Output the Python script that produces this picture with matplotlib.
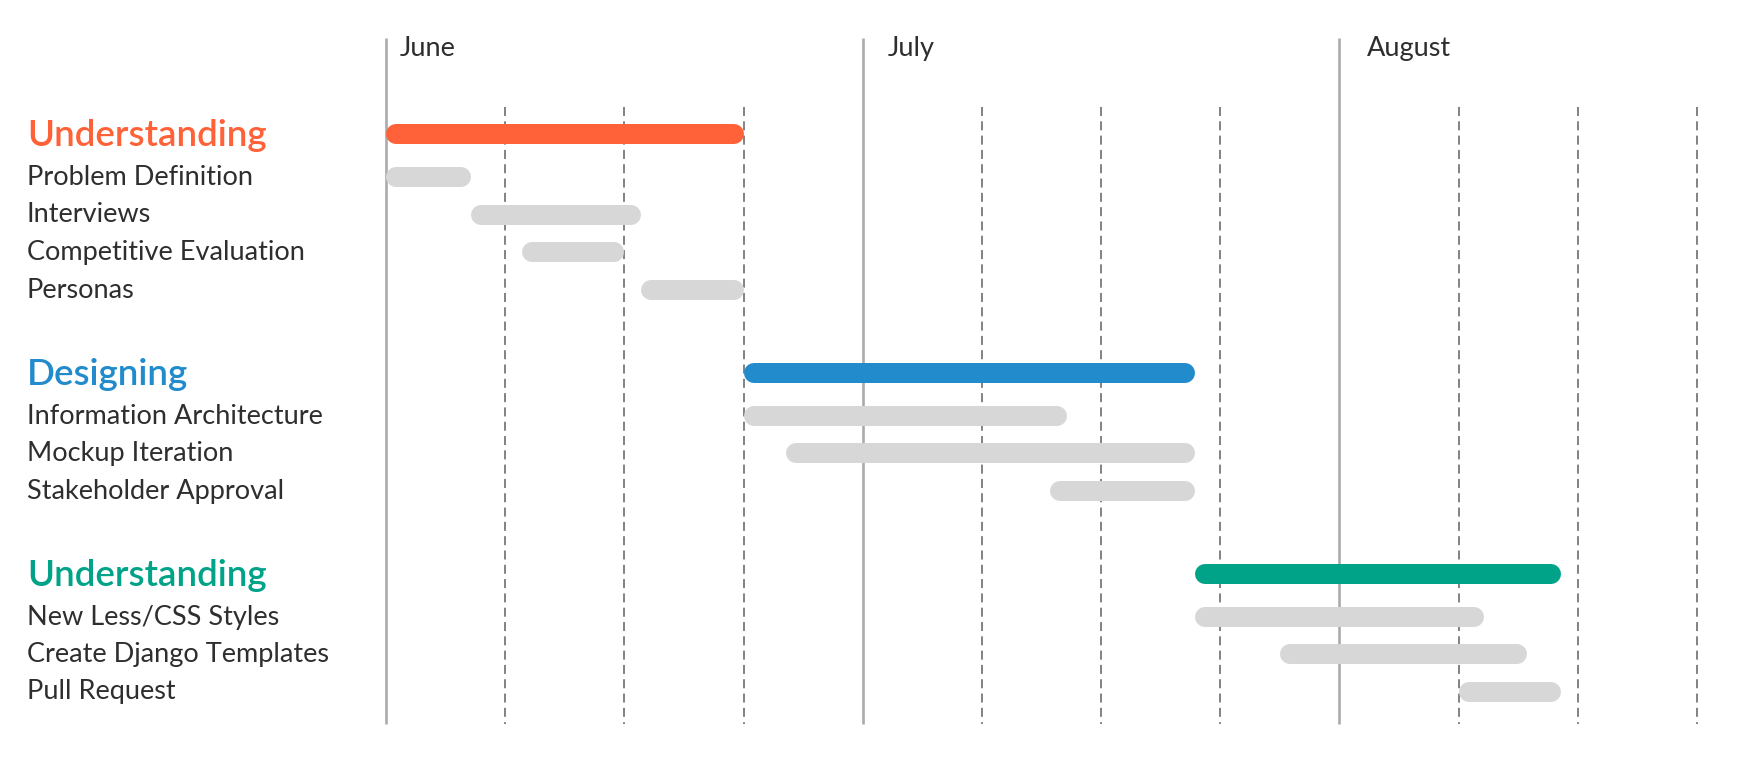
import matplotlib
matplotlib.use("Agg")
import matplotlib.pyplot as plt

# ---------------- data (days from the start of June; 7 days per week) -------------
months = ["June", "July", "August"]
month_start_days = [0, 28, 56]
week_count = 11

phase_names = ["Understanding", "Designing", "Understanding"]
phase_colors = ["#FF6239", "#228BCB", "#01A388"]
phase_start = [0, 21, 47.5]
phase_end = [21, 47.5, 69]

understanding_tasks = ["Problem Definition", "Interviews", "Competitive Evaluation", "Personas"]
understanding_start = [0, 5, 8, 15]
understanding_end = [5, 15, 14, 21]

designing_tasks = ["Information Architecture", "Mockup Iteration", "Stakeholder Approval"]
designing_start = [21, 23.5, 39]
designing_end = [40, 47.5, 47.5]

building_tasks = ["New Less/CSS Styles", "Create Django Templates", "Pull Request"]
building_start = [47.5, 52.5, 63]
building_end = [64.5, 67, 69]

groups = [
    (understanding_tasks, understanding_start, understanding_end),
    (designing_tasks, designing_start, designing_end),
    (building_tasks, building_start, building_end),
]

# ---------------- style / layout ----------------
plt.rcParams["lines.scale_dashes"] = False
W, H = 1744, 762
fig = plt.figure(figsize=(W / 100, H / 100), dpi=100)
ax = fig.add_axes([0, 0, 1, 1])

x0_px, x_end_px = 386, 1697
px_per_day = (x_end_px - x0_px) / (week_count * 7)
ax.set_xlim(-x0_px / px_per_day, week_count * 7 + (W - x_end_px) / px_per_day)
ax.set_ylim(H, 0)
ax.axis("off")

TEXT = "#2e2e2e"
BAR_GRAY = "#D7D7D7"
bar_px = 20
bar_lw = bar_px * 72 / 100
cap_r = (bar_px / 2) / px_per_day

# grid lines
week_days = [7 * k for k in range(week_count + 1)]
for d in week_days:
    if d in month_start_days:
        ax.vlines(d, 38, 724, color="#ABABAB", lw=1.9, zorder=1)
    else:
        ax.vlines(d, 107, 724, color="#787878", lw=1.3, linestyles=(0, (6.5, 3.8)), zorder=1)

month_label_offsets_px = [14, 25, 27]
for m, d, off in zip(months, month_start_days, month_label_offsets_px):
    ax.annotate(m, xy=(d, 56), xytext=(off * 0.72, 0), textcoords="offset points",
                ha="left", va="baseline", fontsize=19.5, color=TEXT, family="Lato")

label_x = 27 / px_per_day + ax.get_xlim()[0]


def draw_bar(s, e, y, color, z):
    ax.plot([s + cap_r, e - cap_r], [y, y], lw=bar_lw, color=color,
            solid_capstyle="round", zorder=z)


y = 134
for gi, (tasks, starts, ends) in enumerate(groups):
    draw_bar(phase_start[gi], phase_end[gi], y, phase_colors[gi], 3)
    ax.text(label_x, y + 12.5, phase_names[gi], ha="left", va="baseline",
            fontsize=26.5, color=phase_colors[gi], family="Lato", fontweight="semibold")
    y += 43
    for t, s, e in zip(tasks, starts, ends):
        draw_bar(s, e, y, BAR_GRAY, 2)
        ax.text(label_x, y + 8, t, ha="left", va="baseline",
                fontsize=19.5, color=TEXT, family="Lato")
        y += 37.5
    y += 83 - 37.5

fig.savefig("out.png", dpi=100, facecolor="white")
